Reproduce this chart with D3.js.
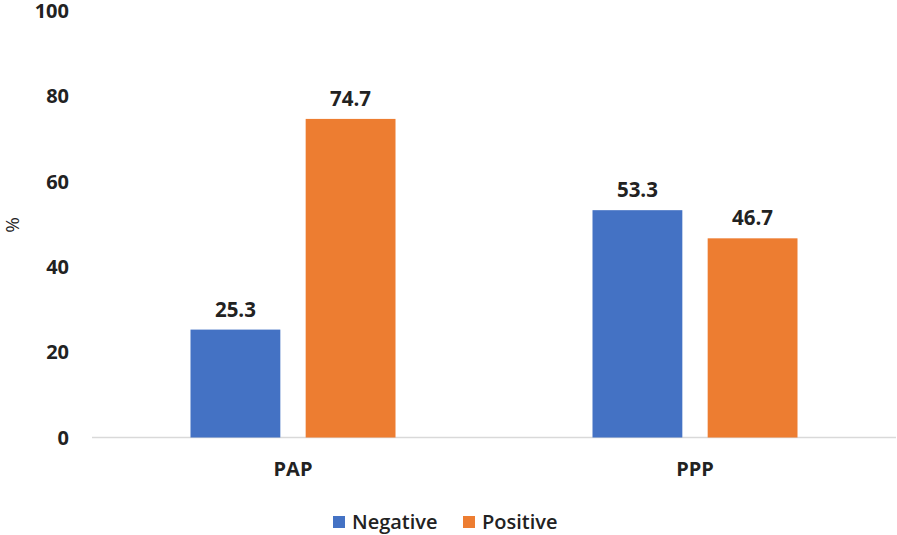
<!DOCTYPE html>
<html><head><meta charset="utf-8">
<script src="https://cdn.jsdelivr.net/npm/d3@7"></script>
<style>body{margin:0;background:#fff}text{font-family:"Open Sans",sans-serif;font-weight:700;fill:#222}</style>
</head><body>
<script>
const categories = ["PAP", "PPP"];
const seriesNames = ["Negative", "Positive"];
const negative = [25.3, 53.3];
const positive = [74.7, 46.7];
const yTicks = [0, 20, 40, 60, 80, 100];
const colors = ["#4472C4", "#ED7D31"];

const W = 897, H = 535;
const svg = d3.select("body").append("svg").attr("width", W).attr("height", H);
const x0 = d3.scaleBand().domain(categories).range([92, 896]).paddingInner(0).paddingOuter(0);
const x1 = d3.scaleBand().domain(seriesNames).range([0, 205]).paddingInner(0.22).paddingOuter(0);
const y = d3.scaleLinear().domain([0, 100]).range([437.5, 11]);

// y tick labels
svg.append("g").selectAll("text").data(yTicks).join("text")
  .attr("x", 69).attr("y", d => y(d)).attr("dy", "0.35em")
  .attr("text-anchor", "end").style("font-size", "20px").text(d => d);

// baseline
svg.append("line").attr("x1", 92).attr("x2", 896).attr("y1", y(0)).attr("y2", y(0))
  .attr("stroke", "#d9d9d9").attr("stroke-width", 1.5);

const data = categories.map((c, i) => ({cat: c, vals: [negative[i], positive[i]]}));
const g = svg.append("g").selectAll("g").data(data).join("g")
  .attr("transform", d => `translate(${x0(d.cat) + (x0.bandwidth() - 205) / 2},0)`);
g.selectAll("rect").data(d => d.vals.map((v, j) => ({v, s: seriesNames[j], j}))).join("rect")
  .attr("x", d => x1(d.s)).attr("width", x1.bandwidth())
  .attr("y", d => y(d.v)).attr("height", d => y(0) - y(d.v))
  .attr("fill", d => colors[d.j]);
g.selectAll("text").data(d => d.vals.map((v, j) => ({v, s: seriesNames[j], j}))).join("text")
  .attr("x", d => x1(d.s) + x1.bandwidth() / 2).attr("y", d => y(d.v) - 13)
  .attr("text-anchor", "middle").style("font-size", "20.5px").text(d => d.v.toFixed(1));

// category labels
svg.append("g").selectAll("text").data(categories).join("text")
  .attr("x", d => x0(d) + x0.bandwidth() / 2).attr("y", 476)
  .attr("text-anchor", "middle").style("font-size", "20px").text(d => d);

// y label
svg.append("text").attr("transform", "translate(19,225) rotate(-90)")
  .attr("text-anchor", "middle").style("font-size", "19px").style("font-weight", "400").text("%");

// legend
const leg = svg.append("g");
const lx = [333, 463];
seriesNames.forEach((s, i) => {
  leg.append("rect").attr("x", lx[i]).attr("y", 516).attr("width", 12).attr("height", 12).attr("fill", colors[i]);
  leg.append("text").attr("x", lx[i] + 19).attr("y", 522).attr("dy", "0.35em")
    .style("font-size", "20px").style("font-weight", "600").text(s);
});
</script>
</body></html>
